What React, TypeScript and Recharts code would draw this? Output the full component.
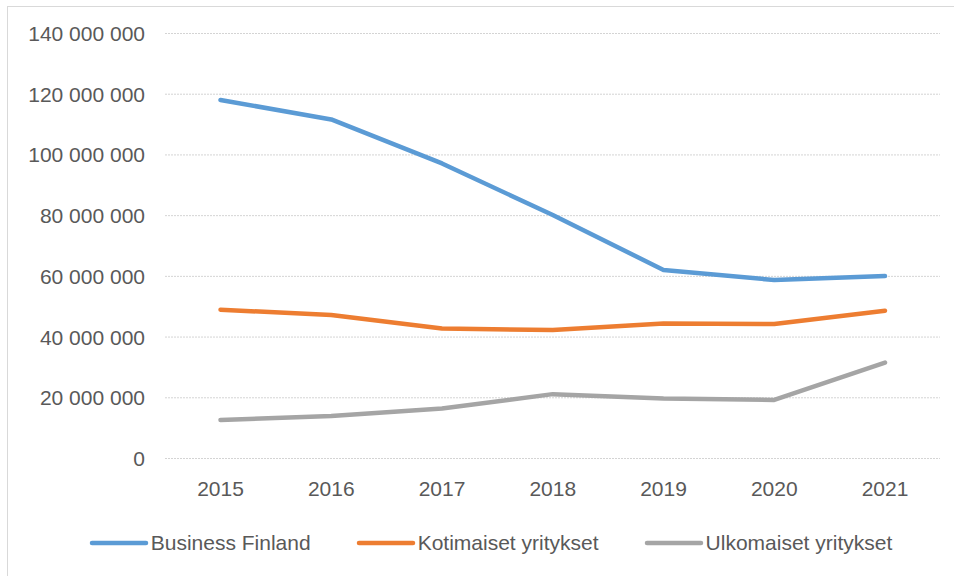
import React from 'react';
import { LineChart, Line, XAxis, YAxis, CartesianGrid, Legend } from 'recharts';

const years = ['2015', '2016', '2017', '2018', '2019', '2020', '2021'];
const businessFinland = [118100000, 111700000, 97200000, 80200000, 62100000, 58800000, 60100000];
const kotimaiset = [49000000, 47300000, 42800000, 42300000, 44500000, 44300000, 48700000];
const ulkomaiset = [12700000, 14000000, 16500000, 21200000, 19800000, 19300000, 31600000];
const yTicks = [0, 20000000, 40000000, 60000000, 80000000, 100000000, 120000000, 140000000];

const seriesNames = ['Business Finland', 'Kotimaiset yritykset', 'Ulkomaiset yritykset'];
const seriesColors = ['#5B9BD5', '#ED7D31', '#A5A5A5'];

const data = years.map((y, i) => ({
  year: y,
  bf: businessFinland[i],
  koti: kotimaiset[i],
  ulko: ulkomaiset[i],
}));

const FONT = "'Liberation Sans', Arial, sans-serif";
const TEXT = '#595959';

const fmt = (v: number) => String(v).replace(/\B(?=(\d{3})+(?!\d))/g, ' ');

const renderLegend = (props: any) => {
  const { payload } = props;
  return (
    <div style={{ display: 'flex', justifyContent: 'center', alignItems: 'center', gap: 45, fontFamily: FONT, fontSize: 21, color: TEXT }}>
      {(payload || []).map((entry: any) => (
        <div key={entry.value} style={{ display: 'flex', alignItems: 'center' }}>
          <svg width={60} height={10} style={{ marginRight: 2 }}>
            <line x1={3} y1={5} x2={57} y2={5} stroke={entry.color} strokeWidth={4.5} strokeLinecap="round" />
          </svg>
          <span style={{ lineHeight: '24px' }}>{entry.value}</span>
        </div>
      ))}
    </div>
  );
};

export default function App() {
  return (
    <div style={{ position: 'absolute', left: 0, top: 0, width: 954, height: 576, overflow: 'hidden', background: '#fff' }}>
      <div style={{ position: 'absolute', left: 7, top: 6, width: 980, height: 620, border: '1px solid #d9d9d9', boxSizing: 'border-box' }} />
      <div style={{ position: 'absolute', left: 0, top: 0 }}>
        <LineChart width={954} height={576} data={data} margin={{ top: 33.5, right: 14, bottom: 87.5, left: 0 }}>
          <CartesianGrid vertical={false} stroke="#d4d4d4" strokeDasharray="2 1" />
          <XAxis
            dataKey="year"
            axisLine={false}
            tickLine={false}
            height={30}
            tickMargin={17}
            padding={{ left: 55.5, right: 55 }}
            tick={{ fill: TEXT, fontSize: 21, fontFamily: FONT }}
          />
          <YAxis
            width={165}
            domain={[0, 140000000]}
            ticks={yTicks}
            interval={0}
            axisLine={false}
            tickLine={false}
            tickMargin={14}
            tickFormatter={fmt}
            tick={{ fill: TEXT, fontSize: 21, fontFamily: FONT }}
          />
          <Legend
            layout="horizontal"
            verticalAlign="middle"
            align="center"
            content={renderLegend}
            wrapperStyle={{ position: 'absolute', left: 27, top: 531, width: 927 }}
          />
          <Line type="linear" dataKey="bf" name={seriesNames[0]} stroke={seriesColors[0]} strokeWidth={4.5} strokeLinecap="round" strokeLinejoin="round" dot={false} activeDot={false} isAnimationActive={false} />
          <Line type="linear" dataKey="koti" name={seriesNames[1]} stroke={seriesColors[1]} strokeWidth={4.5} strokeLinecap="round" strokeLinejoin="round" dot={false} activeDot={false} isAnimationActive={false} />
          <Line type="linear" dataKey="ulko" name={seriesNames[2]} stroke={seriesColors[2]} strokeWidth={4.5} strokeLinecap="round" strokeLinejoin="round" dot={false} activeDot={false} isAnimationActive={false} />
        </LineChart>
      </div>
    </div>
  );
}
